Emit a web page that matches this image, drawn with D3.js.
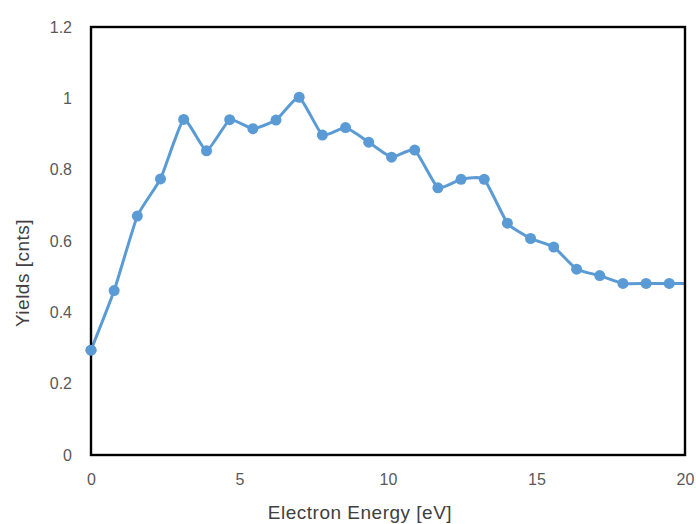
<!DOCTYPE html>
<html>
<head>
<meta charset="utf-8">
<script src="https://cdn.jsdelivr.net/npm/d3@7"></script>
<style>
  html, body { margin: 0; padding: 0; background: #fff; }
  svg { display: block; }
  text { font-family: "Liberation Sans", Arial, sans-serif; }
</style>
</head>
<body>
<svg id="chart" width="696" height="524"></svg>
<script>
// ---- data ----
const energies = [0, 0.78, 1.56, 2.34, 3.12, 3.89, 4.67, 5.45, 6.23, 7.01, 7.79, 8.57, 9.35,
                  10.12, 10.9, 11.68, 12.46, 13.24, 14.02, 14.8, 15.58, 16.35, 17.13, 17.91,
                  18.69, 19.47, 20.25];
const yields = [0.294, 0.461, 0.670, 0.774, 0.941, 0.853, 0.940, 0.915, 0.939, 1.003, 0.897,
                0.918, 0.877, 0.835, 0.855, 0.749, 0.773, 0.773, 0.650, 0.607, 0.583, 0.521,
                0.503, 0.481, 0.481, 0.481, 0.481];
const xTicks = [0, 5, 10, 15, 20];
const yTicks = [0, 0.2, 0.4, 0.6, 0.8, 1, 1.2];
const xTitle = "Electron Energy [eV]";
const yTitle = "Yields [cnts]";

// ---- layout ----
const svg = d3.select("#chart");
const plot = { left: 91, right: 685, top: 27, bottom: 455 };

const x = d3.scaleLinear().domain([0, 20]).range([plot.left, plot.right]);
const y = d3.scaleLinear().domain([0, 1.2]).range([plot.bottom, plot.top]);

const data = energies.map((e, i) => ({ e, v: yields[i] }));

svg.append("defs").append("clipPath").attr("id", "clip")
  .append("rect")
  .attr("x", plot.left - 12).attr("y", plot.top - 12)
  .attr("width", plot.right - plot.left + 12).attr("height", plot.bottom - plot.top + 24);

// axes (labels only)
const yAxis = svg.append("g")
  .attr("transform", `translate(${plot.left},0)`)
  .call(d3.axisLeft(y).tickValues(yTicks).tickSize(0).tickPadding(19)
        .tickFormat(d => String(+d.toFixed(1))));
const xAxis = svg.append("g")
  .attr("transform", `translate(0,${plot.bottom})`)
  .call(d3.axisBottom(x).tickValues(xTicks).tickSize(0).tickPadding(19)
        .tickFormat(d => String(d)));
[xAxis, yAxis].forEach(g => {
  g.select(".domain").remove();
  g.selectAll("text").attr("fill", "#595959").style("font-size", "16px")
    .style("font-family", '"Liberation Sans", Arial, sans-serif');
});

// series
const g = svg.append("g").attr("clip-path", "url(#clip)");
const line = d3.line().x(d => x(d.e)).y(d => y(d.v)).curve(d3.curveCardinal.tension(0.55));
g.append("path").datum(data)
  .attr("d", line)
  .attr("fill", "none")
  .attr("stroke", "#5B9BD5")
  .attr("stroke-width", 3)
  .attr("stroke-linejoin", "round");
g.selectAll("circle").data(data).join("circle")
  .attr("cx", d => x(d.e)).attr("cy", d => y(d.v))
  .attr("r", 5.5)
  .attr("fill", "#5B9BD5");

// frame
svg.append("rect")
  .attr("x", plot.left).attr("y", plot.top)
  .attr("width", plot.right - plot.left).attr("height", plot.bottom - plot.top)
  .attr("fill", "none").attr("stroke", "#000").attr("stroke-width", 2.4);

// re-draw series markers that sit on the left frame edge above the frame
svg.append("g").selectAll("circle").data(data.filter(d => d.e === 0)).join("circle")
  .attr("cx", d => x(d.e)).attr("cy", d => y(d.v))
  .attr("r", 5.5).attr("fill", "#5B9BD5");

// titles
svg.append("text")
  .attr("x", 360).attr("y", 519)
  .attr("text-anchor", "middle")
  .attr("fill", "#404040")
  .style("font-size", "19px")
  .style("letter-spacing", "0.5px")
  .text(xTitle);
svg.append("text")
  .attr("transform", "translate(29,273) rotate(-90)")
  .attr("text-anchor", "middle")
  .attr("fill", "#404040")
  .style("font-size", "19px")
  .style("letter-spacing", "0.5px")
  .text(yTitle);
</script>
</body>
</html>
